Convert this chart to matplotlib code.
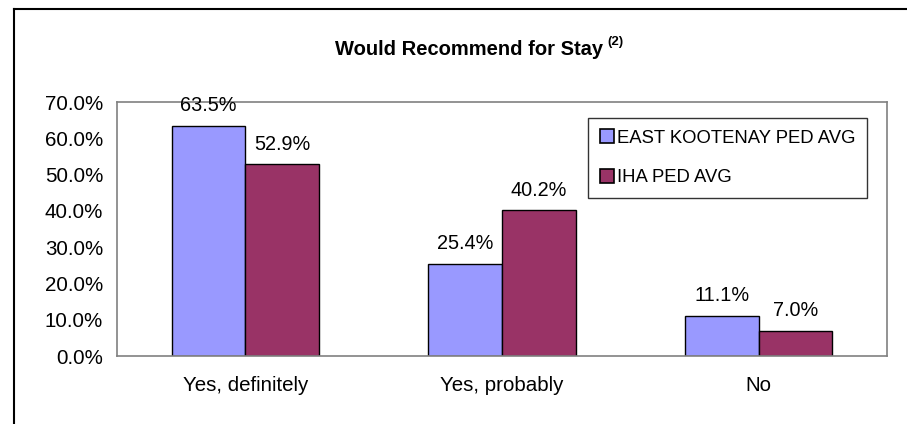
import numpy as np
import matplotlib.pyplot as plt
from matplotlib.lines import Line2D

plt.rcParams['font.family'] = ['Liberation Sans', 'DejaVu Sans']

categories = ["Yes, definitely", "Yes, probably", "No"]
series_names = ["EAST KOOTENAY PED AVG", "IHA PED AVG"]
east_kootenay = [63.5, 25.4, 11.1]
iha = [52.9, 40.2, 7.0]
yticks = [0, 10, 20, 30, 40, 50, 60, 70]

colors = ["#9999FF", "#993366"]

fig = plt.figure(figsize=(9.07, 4.24), dpi=100)
W, H = 907, 424
ax = fig.add_axes([117 / W, 1 - 356 / H, 770 / W, 254 / H])

x = np.arange(len(categories))
w = 0.287
for vals, off, c in [(east_kootenay, -w / 2, colors[0]), (iha, w / 2, colors[1])]:
    bars = ax.bar(x + off, vals, w, color=c, edgecolor="black", linewidth=1.0, zorder=2)
    for b, v in zip(bars, vals):
        ax.text(b.get_x() + b.get_width() / 2, v + 4.0, f"{v:.1f}%", ha="center",
                va="baseline", fontsize=14.3, zorder=3)

ax.set_xlim(-0.5, 2.5)
ax.set_ylim(0, 70)
ax.set_yticks(yticks)
ax.set_yticklabels([f"{t:.1f}%" for t in yticks], fontsize=14.8)
ax.set_xticks(x)
ax.set_xticklabels(categories, fontsize=14.8)
ax.tick_params(axis="both", length=0)
ax.tick_params(axis="y", pad=10)
ax.tick_params(axis="x", pad=14.5)
for s in ax.spines.values():
    s.set_color("#808080")
    s.set_linewidth(1.2)

handles = [Line2D([], [], marker="s", linestyle="none", markersize=10,
                  markerfacecolor=c, markeredgecolor="black", markeredgewidth=1.2)
           for c in colors]
leg = fig.legend(handles, series_names, loc="upper left",
                 bbox_to_anchor=(588 / W, 1 - 118 / H), bbox_transform=fig.transFigure,
                 frameon=True, fontsize=13.3, fancybox=False, handlelength=0.8,
                 handletextpad=0.15, labelspacing=1.22, borderpad=0.63,
                 borderaxespad=0)
leg.get_frame().set_edgecolor("black")
leg.get_frame().set_linewidth(1.0)

fig.text(335 / W, 1 - 55 / H, "Would Recommend for Stay", ha="left",
         va="baseline", fontsize=14.5, fontweight="bold")
fig.text(607 / W, 1 - 45 / H, "(2)", ha="left", va="baseline",
         fontsize=9.5, fontweight="bold")

# outer chart border (left and top only are visible)
fig.add_artist(Line2D([14 / W, 14 / W], [0, 1 - 9 / H], color="black", lw=1.5))
fig.add_artist(Line2D([14 / W, 1], [1 - 9 / H, 1 - 9 / H], color="black", lw=1.5))

fig.savefig("out.png", dpi=100)
